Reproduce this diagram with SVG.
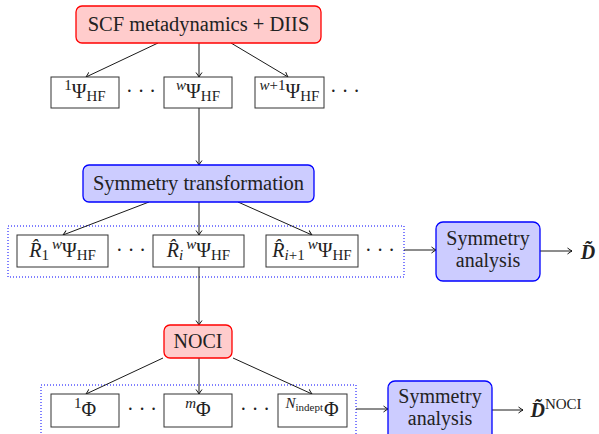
<svg xmlns="http://www.w3.org/2000/svg" width="599" height="434" viewBox="0 0 599 434">
<style>
text{font-family:"Liberation Serif","DejaVu Serif",serif;font-size:20px;fill:#222;text-anchor:middle}
.s{font-size:15px}
.ss{font-size:11px}
.it{font-style:italic}
.bi{font-style:italic;font-weight:bold}
.red{fill:#ffcccc;stroke:#ff0000;stroke-width:1.3}
.blue{fill:#ccccff;stroke:#0000ff;stroke-width:1.3}
.box{fill:#fff;stroke:#333;stroke-width:1}
.dot{fill:none;stroke:#0000ff;stroke-width:1;stroke-dasharray:1 2}
.c line{stroke:#000;stroke-width:0.9;marker-end:url(#ah)}
</style>
<defs>
<marker id="ah" markerUnits="userSpaceOnUse" markerWidth="10" markerHeight="10" viewBox="-6 -5 7 10" refX="0" refY="0" orient="auto">
<path d="M-4.5,-3 Q-1.5,-0.8 0,0 Q-1.5,0.8 -4.5,3" fill="none" stroke="#000" stroke-width="0.9"/>
</marker>
</defs>
<rect class="dot" x="8" y="226" width="396" height="51"/>
<rect class="dot" x="41" y="385" width="315" height="60"/>
<g class="c">
<line x1="158" y1="43" x2="86" y2="77"/>
<line x1="199" y1="43" x2="199" y2="77"/>
<line x1="231" y1="43" x2="288" y2="77"/>
<line x1="199" y1="108" x2="199" y2="165"/>
<line x1="149" y1="202" x2="63" y2="235"/>
<line x1="199" y1="202" x2="199" y2="235"/>
<line x1="238" y1="202" x2="312" y2="235"/>
<line x1="404" y1="250" x2="436" y2="250"/>
<line x1="540" y1="251" x2="572" y2="251"/>
<line x1="199" y1="267" x2="199" y2="325"/>
<line x1="163" y1="358" x2="86" y2="394"/>
<line x1="199" y1="358" x2="199" y2="394"/>
<line x1="233" y1="358" x2="312" y2="394"/>
<line x1="356" y1="409" x2="388" y2="409"/>
<line x1="492" y1="410" x2="523" y2="410"/>
</g>
<g id="scf"><rect class="red" x="76" y="6" width="245" height="37" rx="6"/><text x="198.5" y="31" style="font-size:20.5px">SCF metadynamics + DIIS</text></g>
<g id="psi1"><rect class="box" x="51" y="77" width="68" height="31"/><text x="85" y="98"><tspan class="s" dy="-8">1</tspan><tspan dy="8">Ψ</tspan><tspan class="s" dy="3">HF</tspan></text></g>
<text x="141" y="98">· · ·</text>
<g id="psiw"><rect class="box" x="164" y="77" width="68" height="31"/><text x="198" y="98"><tspan class="s it" dy="-8">w</tspan><tspan dy="8">Ψ</tspan><tspan class="s" dy="3">HF</tspan></text></g>
<g id="psiw1"><rect class="box" x="255" y="77" width="69" height="31"/><text x="289.5" y="98"><tspan class="s" dy="-8"><tspan class="it">w</tspan>+1</tspan><tspan dy="8">Ψ</tspan><tspan class="s" dy="3">HF</tspan></text></g>
<text x="345" y="98">· · ·</text>
<g id="symtrans"><rect class="blue" x="83" y="165" width="231" height="37" rx="6"/><text x="198.5" y="190" style="font-size:20.5px">Symmetry transformation</text></g>
<g id="r1"><rect class="box" x="17" y="235" width="91" height="32"/><text x="62.5" y="257"><tspan class="it">R&#x302;</tspan><tspan class="s" dy="3">1</tspan><tspan class="s it" dy="-11" dx="3">w</tspan><tspan dy="8">Ψ</tspan><tspan class="s" dy="3">HF</tspan></text></g>
<text x="131" y="257">· · ·</text>
<g id="ri"><rect class="box" x="153" y="235" width="91" height="32"/><text x="198.5" y="257"><tspan class="it">R&#x302;</tspan><tspan class="s it" dy="3">i</tspan><tspan class="s it" dy="-11" dx="3">w</tspan><tspan dy="8">Ψ</tspan><tspan class="s" dy="3">HF</tspan></text></g>
<g id="ri1"><rect class="box" x="266" y="235" width="92" height="32"/><text x="312" y="257"><tspan class="it">R&#x302;</tspan><tspan class="s" dy="3"><tspan class="it">i</tspan>+1</tspan><tspan class="s it" dy="-11" dx="3">w</tspan><tspan dy="8">Ψ</tspan><tspan class="s" dy="3">HF</tspan></text></g>
<text x="380" y="257">· · ·</text>
<g id="symana1"><rect class="blue" x="436" y="222" width="104" height="59" rx="7"/><text x="488" y="245">Symmetry</text><text x="488" y="267">analysis</text></g>
<g id="d1"><text class="bi" x="588" y="259">D&#x303;</text></g>
<g id="noci"><rect class="red" x="164" y="325" width="68" height="33" rx="6"/><text x="198" y="348">NOCI</text></g>
<g id="phi1"><rect class="box" x="51" y="394" width="68" height="33"/><text x="85" y="416"><tspan class="s" dy="-8">1</tspan><tspan dy="8">Φ</tspan></text></g>
<text x="142" y="416">· · ·</text>
<g id="phim"><rect class="box" x="164" y="394" width="68" height="33"/><text x="198" y="416"><tspan class="s it" dy="-8">m</tspan><tspan dy="8">Φ</tspan></text></g>
<text x="255" y="416">· · ·</text>
<g id="phin"><rect class="box" x="278" y="394" width="69" height="33"/><text x="312" y="416"><tspan class="s it" dy="-8">N</tspan><tspan class="ss" dy="3">indept</tspan><tspan dy="5" dx="1">Φ</tspan></text></g>
<g id="symana2"><rect class="blue" x="388" y="381" width="104" height="60" rx="7"/><text x="440" y="403">Symmetry</text><text x="440" y="425">analysis</text></g>
<g id="d2"><text x="556" y="417"><tspan class="bi">D&#x303;</tspan><tspan class="s" dy="-8">NOCI</tspan></text></g>
</svg>
